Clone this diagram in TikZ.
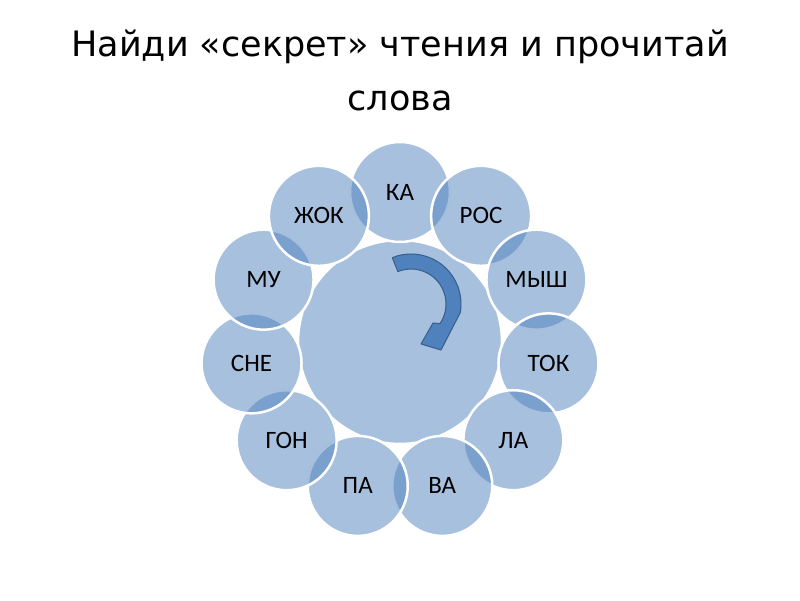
\documentclass[tikz,border=0pt]{standalone}
\usepackage{fontspec}
\setmainfont{Carlito}
\newfontfamily\titlefont{DejaVu Sans}
\definecolor{accent}{RGB}{79,129,189}
\definecolor{arrowline}{RGB}{56,93,138}
\begin{document}
\begin{tikzpicture}[x=1pt,y=1pt,
  petal/.style={circle, draw=white, line width=2.5pt, fill=accent, fill opacity=0.5,
    draw opacity=1, text opacity=1, minimum size=100pt, inner sep=0pt,
    font=\fontsize{25}{25}\selectfont, text=black},
  hub/.style={circle, draw=white, line width=2.5pt, fill=accent, fill opacity=0.5,
    draw opacity=1, minimum size=204pt, inner sep=0pt},
  titletext/.style={font=\titlefont\fontsize{35}{35}\selectfont, anchor=base, inner sep=0pt},
  turnarrow/.style={fill=accent, draw=arrowline, line width=1pt, line join=round}]
\useasboundingbox (0,0) rectangle (800,600);
\node[titletext] (t1) at (400,543) {Найди «секрет» чтения и прочитай};
\node[titletext] (t2) at (400,489) {слова};
\node[hub] (hub) at (400,258) {};
\foreach \w [count=\i from 0] in {КА,РОС,МЫШ,ТОК,ЛА,ВА,ПА,ГОН,СНЕ,МУ,ЖОК}
  \node[petal] (p\i) at ({400+150*cos(90-\i*360/11)},{258+150*sin(90-\i*360/11)}) {\w};
\draw[turnarrow] (411,296) ++(112:50) arc[start angle=112,end angle=-10,radius=50]
  -- (441,250) -- (421,256) -- (433,277) -- (440,276.4)
  arc[start angle=-34,end angle=112,radius=35] -- cycle;
\end{tikzpicture}
\end{document}
